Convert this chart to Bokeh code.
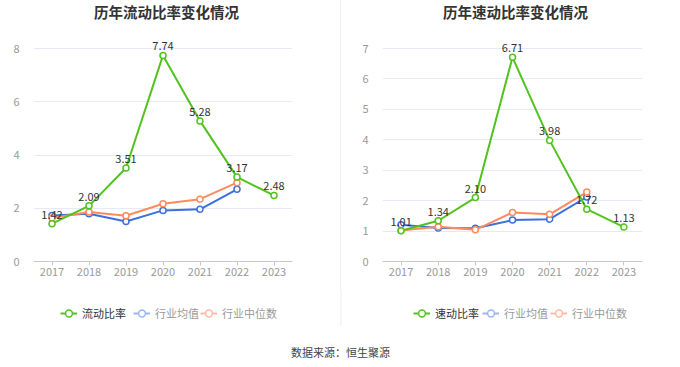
from bokeh.plotting import figure
from bokeh.models import Range1d, FactorRange, FixedTicker, Legend, LegendItem, Div, Label
from bokeh.layouts import row, column
from bokeh.embed import file_html
from bokeh.resources import INLINE
from bokeh.core.properties import value

years = ["2017", "2018", "2019", "2020", "2021", "2022", "2023"]
ind_years = ["2017", "2018", "2019", "2020", "2021", "2022"]

current_ratio = [1.42, 2.09, 3.51, 7.74, 5.28, 3.17, 2.48]
current_ind_mean = [1.73, 1.79, 1.50, 1.92, 1.96, 2.71]
current_ind_median = [1.63, 1.86, 1.72, 2.17, 2.34, 2.96]

quick_ratio = [1.01, 1.34, 2.10, 6.71, 3.98, 1.72, 1.13]
quick_ind_mean = [1.21, 1.10, 1.09, 1.36, 1.39, 2.12]
quick_ind_median = [1.02, 1.14, 1.04, 1.61, 1.55, 2.28]

left_ticks = [0, 2, 4, 6, 8]
right_ticks = [0, 1, 2, 3, 4, 5, 6, 7]

FONT = "Noto Sans CJK SC"
GREEN = "#52c21f"
BLUE = "#3b70de"
ORANGE = "#ff8a5e"
BLUE_L = "#9ab6f2"
ORANGE_L = "#ffbaa0"

FRAME_H = 261          # plot frame height in px (frame starts at the very top)
GRID_H = 213           # px from the zero line to the top grid line
TOP_PAD = FRAME_H / GRID_H


def make_chart(title, ratio, mean, median, ymax, ticks, width, bl, br):
    p = figure(width=width, height=290, x_range=FactorRange(*years, range_padding=0),
               y_range=Range1d(0, ymax * TOP_PAD), output_backend="svg",
               toolbar_location=None, min_border_left=bl, min_border_right=br,
               min_border_top=0, min_border_bottom=29)
    p.outline_line_color = None
    p.add_layout(Label(x=133, y=FRAME_H - 11, x_units="screen", y_units="screen",
                       text=title, text_align="center", text_baseline="middle",
                       text_font=FONT, text_font_size="14.5px", text_font_style="bold",
                       text_color="#333333"))

    p.xgrid.grid_line_color = None
    p.ygrid.grid_line_color = "#e6eaf4"
    p.yaxis.ticker = FixedTicker(ticks=ticks)
    p.yaxis.axis_line_color = None
    p.yaxis.major_tick_line_color = None
    p.yaxis.minor_tick_line_color = None
    p.yaxis.major_label_text_color = "#999999"
    p.yaxis.major_label_text_font = FONT
    p.yaxis.major_label_text_font_size = "11px"
    p.yaxis.major_label_standoff = 8
    p.xaxis.axis_line_color = "#c8c8c8"
    p.xaxis.major_tick_line_color = "#c8c8c8"
    p.xaxis.major_tick_out = 4
    p.xaxis.major_tick_in = 0
    p.xaxis.major_label_text_color = "#999999"
    p.xaxis.major_label_text_font = FONT
    p.xaxis.major_label_text_font_size = "11px"
    p.xaxis.major_label_standoff = 2

    p.line(ind_years, mean, line_color=BLUE, line_width=2)
    p.scatter(ind_years, mean, size=6, fill_color="white", line_color=BLUE, line_width=1.5)
    p.line(ind_years, median, line_color=ORANGE, line_width=2)
    p.scatter(ind_years, median, size=6, fill_color="white", line_color=ORANGE, line_width=1.5)
    p.line(years, ratio, line_color=GREEN, line_width=2)
    p.scatter(years, ratio, size=6, fill_color="white", line_color=GREEN, line_width=1.5)
    p.text(years, ratio, text=[f"{v:.2f}" for v in ratio], text_align="center",
           text_baseline="bottom", y_offset=-5, text_font=value(FONT),
           text_font_size="11px", text_color="#333333")
    return p


f1 = make_chart("历年流动比率变化情况", current_ratio, current_ind_mean,
                current_ind_median, 8, left_ticks, 340, 33, 48)
f2 = make_chart("历年速动比率变化情况", quick_ratio, quick_ind_mean,
                quick_ind_median, 7, right_ticks, 339, 41, 38)

sep = Div(width=1, height=290, margin=0, styles={"background-color": "#eeeeee"})

# footer: legends, continuation of the separator, and the source note
footer = figure(width=680, height=77, x_range=Range1d(0, 680), y_range=Range1d(0, 77),
                output_backend="svg", toolbar_location=None, min_border=0,
                x_axis_type=None, y_axis_type=None)
footer.grid.visible = False
footer.outline_line_color = None
footer.segment([340.5], [77], [340.5], [42], line_color="#eeeeee", line_width=1)
footer.text([340], [16], text=["数据来源：恒生聚源"], text_align="center",
            text_baseline="middle", text_font=value(FONT), text_font_size="11px",
            text_color="#444444")


def legend_icon(color):
    # legend-only glyphs: one point placed outside the visible range
    a = footer.line([-50, -40], [-50, -50], line_color=color, line_width=2)
    b = footer.scatter([-50], [-50], size=6, fill_color="white", line_color=color,
                       line_width=1.5)
    return [a, b]


legend_specs = [
    ("流动比率", GREEN, "#333333", 60),
    ("行业均值", BLUE_L, "#999999", 133),
    ("行业中位数", ORANGE_L, "#999999", 200),
    ("速动比率", GREEN, "#333333", 413),
    ("行业均值", BLUE_L, "#999999", 482),
    ("行业中位数", ORANGE_L, "#999999", 550),
]
for lab, icol, tcol, x in legend_specs:
    lg = Legend(items=[LegendItem(label=lab, renderers=legend_icon(icol))],
                location=(x, 45), orientation="horizontal", glyph_width=17,
                glyph_height=18, label_standoff=5, padding=0, margin=0, spacing=0,
                border_line_alpha=0, background_fill_alpha=0,
                label_text_font=FONT, label_text_font_size="11px",
                label_text_color=tcol, label_height=12)
    footer.add_layout(lg, "center")

layout = column(row(f1, sep, f2), footer)
open("out.html", "w").write(file_html(layout, INLINE))
